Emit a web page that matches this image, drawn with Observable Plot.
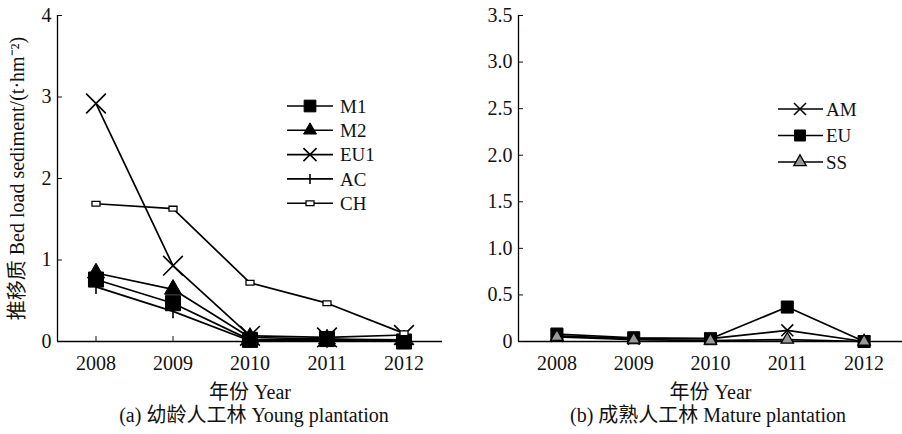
<!DOCTYPE html>
<html><head><meta charset="utf-8">
<script src="https://cdn.jsdelivr.net/npm/d3@7"></script>
<script src="https://cdn.jsdelivr.net/npm/@observablehq/plot@0.6"></script>
<style>
body{margin:0;background:#fff;}
#wrap{position:relative;width:902px;height:434px;font-family:"Liberation Serif","Noto Sans CJK SC",serif;color:#111;overflow:hidden;}
.panel{position:absolute;top:0;}
.cap{position:absolute;font-size:20px;white-space:nowrap;transform:translateX(-50%);line-height:1;}
.leg{position:absolute;top:0;left:0;}
</style></head><body><div id="wrap"></div>
<script>
// ---- data ----
const years = [2008, 2009, 2010, 2011, 2012];
const yearLabels = ["2008", "2009", "2010", "2011", "2012"];
// (a) young plantation
const youngNames = ["M1", "M2", "EU1", "AC", "CH"];
const M1  = [0.76, 0.47, 0.02, 0.03, 0.00];
const M2  = [0.84, 0.64, 0.05, 0.03, 0.02];
const EU1 = [2.92, 0.93, 0.07, 0.05, 0.08];
const AC  = [0.67, 0.37, 0.01, 0.01, 0.01];
const CH  = [1.69, 1.63, 0.72, 0.47, 0.10];
// (b) mature plantation
const matureNames = ["AM", "EU", "SS"];
const AM = [0.06, 0.03, 0.03, 0.12, 0.00];
const EU = [0.08, 0.04, 0.03, 0.37, 0.00];
const SS = [0.05, 0.02, 0.01, 0.02, 0.00];
const yTicksA = [0, 1, 2, 3, 4];
const yTicksB = [0, 0.5, 1, 1.5, 2, 2.5, 3, 3.5];
const xLabel = "年份 Year";
const yLabel = "推移质 Bed load sediment/(t·hm⁻²)";
const capA = "(a) 幼龄人工林 Young plantation";
const capB = "(b) 成熟人工林 Mature plantation";

// ---- styles ----
const vbar = {draw(ctx, size){const r = Math.sqrt(size/Math.PI); ctx.moveTo(0,-r); ctx.lineTo(0,r);}};
const rectSym = {draw(ctx, size){const r = Math.sqrt(size/Math.PI); ctx.rect(-r,-0.6*r,2*r,1.2*r);}};
const styles = {
  M1:  {sym: d3.symbolSquare,   r: 8.5, lr: 6.6, fill: "#000", stroke: "#000", sw: 1},
  M2:  {sym: d3.symbolTriangle, r: 6.3, lr: 4.8, fill: "#000", stroke: "#000", sw: 1},
  EU1: {sym: d3.symbolTimes,    r: 9,   lr: 6,   fill: "none", stroke: "#000", sw: 1.6},
  AC:  {sym: vbar,              r: 7,   lr: 5,   fill: "none", stroke: "#000", sw: 1.6},
  CH:  {sym: rectSym,           r: 4,   lr: 4,   fill: "#fff", stroke: "#000", sw: 1.3},
  AM:  {sym: d3.symbolTimes,    r: 5.5, lr: 5.5, fill: "none", stroke: "#000", sw: 1.6},
  EU:  {sym: d3.symbolSquare,   r: 6.8, lr: 6.2, fill: "#000", stroke: "#000", sw: 1},
  SS:  {sym: d3.symbolTriangle, r: 4.6, lr: 4.6, fill: "#999", stroke: "#000", sw: 1.3}
};
const font = `"Liberation Serif","Noto Sans CJK SC",serif`;
const xDomain = [2007.5, 2012.5];

function rows(names, arrays) {
  return names.flatMap((n, i) => arrays[i].map((v, j) => ({series: n, year: years[j], value: v})));
}

function panel({names, arrays, yDomain, yTicks, tickFmt, marginLeft, marginRight, showYLabel}) {
  const data = rows(names, arrays);
  const marks = [
    Plot.ruleY([0], {stroke: "#000", strokeWidth: 1.3}),
    Plot.ruleX([xDomain[0]], {y1: yDomain[0], y2: yDomain[1], stroke: "#000", strokeWidth: 1.3}),
    Plot.axisX({ticks: years, tickFormat: (d) => yearLabels[years.indexOf(d)], tickSize: -5, tickPadding: 19,
      label: xLabel, labelArrow: "none", labelAnchor: "center", labelOffset: 57, fontSize: 20}),
    Plot.axisY({ticks: yTicks, tickFormat: tickFmt, tickSize: -5, tickPadding: 11,
      label: showYLabel ? yLabel : null, labelArrow: "none", labelAnchor: "center", labelOffset: 48, fontSize: 20}),
    Plot.line(data, {x: "year", y: "value", z: "series", stroke: "#000", strokeWidth: 1.7})
  ];
  for (const n of names) {
    const s = styles[n];
    marks.push(Plot.dot(data.filter(d => d.series === n), {x: "year", y: "value", symbol: s.sym, r: s.r,
      fill: s.fill, stroke: s.stroke, strokeWidth: s.sw}));
  }
  return Plot.plot({
    width: 451, height: 434,
    marginTop: 15, marginBottom: 93, marginLeft, marginRight,
    x: {domain: xDomain, label: null},
    y: {domain: yDomain, label: null},
    style: {fontFamily: font, fontSize: "20px", background: "transparent", color: "#111", overflow: "visible"},
    marks
  });
}

const wrap = document.getElementById("wrap");
const pa = panel({names: youngNames, arrays: [M1, M2, EU1, AC, CH], yDomain: [0, 4], yTicks: yTicksA,
  tickFmt: d => String(d), marginLeft: 57, marginRight: 9, showYLabel: true});
pa.classList.add("panel"); pa.style.left = "0px";
wrap.appendChild(pa);
const pb = panel({names: matureNames, arrays: [AM, EU, SS], yDomain: [0, 3.5], yTicks: yTicksB,
  tickFmt: d => d === 0 ? "0" : d.toFixed(1), marginLeft: 67, marginRight: 0, showYLabel: false});
pb.classList.add("panel"); pb.style.left = "451px";
wrap.appendChild(pb);

// captions
for (const [t, x] of [[capA, 254], [capB, 708]]) {
  const d = document.createElement("div");
  d.className = "cap"; d.textContent = t; d.style.left = x + "px"; d.style.top = "405px";
  wrap.appendChild(d);
}

// legends
function legend(names, x1, x2, xs, xt, y0, dy) {
  const svg = d3.create("svg").attr("class", "leg").attr("width", 902).attr("height", 434)
    .style("position", "absolute").style("left", "0px").style("top", "0px");
  names.forEach((n, i) => {
    const s = styles[n], y = y0 + i * dy;
    svg.append("line").attr("x1", x1).attr("x2", x2).attr("y1", y).attr("y2", y)
      .attr("stroke", "#000").attr("stroke-width", 1.6);
    svg.append("path").attr("transform", `translate(${xs},${y})`)
      .attr("d", d3.symbol(s.sym, s.lr * s.lr * Math.PI)())
      .attr("fill", s.fill).attr("stroke", s.stroke).attr("stroke-width", s.sw);
    svg.append("text").attr("x", xt).attr("y", y).attr("dy", "0.35em")
      .attr("font-family", font).attr("font-size", 19).attr("fill", "#111").text(n);
  });
  wrap.appendChild(svg.node());
}
legend(youngNames, 287, 333, 310, 340, 106, 24.3);
legend(matureNames, 778, 823, 800, 826, 109, 26.5);
</script></body></html>
